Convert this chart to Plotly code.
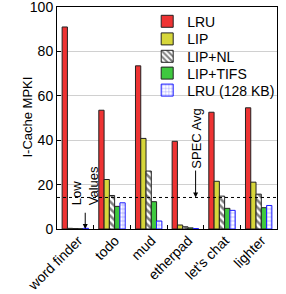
import plotly.graph_objects as go

categories = ["word finder", "todo", "mud", "etherpad", "let's chat", "lighter"]
series_names = ["LRU", "LIP", "LIP+NL", "LIP+TIFS", "LRU (128 KB)"]
lru = [91.0, 53.5, 73.5, 39.5, 52.6, 54.6]
lip = [0.3, 22.3, 40.8, 1.8, 21.5, 21.1]
lip_nl = [0.2, 15.1, 26.1, 1.0, 14.8, 15.7]
lip_tifs = [0.1, 10.2, 12.3, 0.5, 9.3, 9.6]
lru_128 = [0.3, 11.8, 3.6, 0.2, 8.4, 10.6]
spec_avg = 14.2
y_ticks = [0, 20, 40, 60, 80, 100]

FONT = "Liberation Sans, Arial, sans-serif"

fig = go.Figure()
styles = [
    dict(color="#ee3333", line=dict(color="#222222", width=1)),
    dict(color="#d6d63a", line=dict(color="#222222", width=1)),
    dict(color="white", line=dict(color="#222222", width=1),
         pattern=dict(shape="\\", fgcolor="black", bgcolor="white", size=5, solidity=0.5)),
    dict(color="#3fc93f", line=dict(color="#222222", width=1)),
    dict(color="white", line=dict(color="#1a1aff", width=1),
         pattern=dict(shape="+", fgcolor="#1a1aff", bgcolor="white", size=4, solidity=0.25)),
]
legend_ids = ["legend", "legend2", "legend3", "legend4", "legend5"]
legend_y_px = [21.7, 39.3, 56.7, 73.5, 90.5]
for name, vals, st, lg in zip(series_names, [lru, lip, lip_nl, lip_tifs, lru_128], styles, legend_ids):
    fig.add_trace(go.Bar(x=categories, y=vals, name=name, marker=st, legend=lg))

fig.add_shape(type="line", xref="paper", yref="y", x0=0, x1=1, y0=spec_avg, y1=spec_avg,
              line=dict(color="black", width=1, dash="dot"))

fig.add_annotation(x=0.27, y=0, xref="x", yref="y", ax=0.27, ay=8, axref="x", ayref="y",
                   showarrow=True, arrowhead=2, arrowsize=1, arrowwidth=1, arrowcolor="black", text="")
fig.add_annotation(x=0.25, y=19.5, xref="x", yref="y", text="Low<br>Values", showarrow=False,
                   textangle=-90, align="left", font=dict(family=FONT, size=13, color="black"))
fig.add_annotation(x=3.28, y=spec_avg, xref="x", yref="y", ax=3.28, ay=27, axref="x", ayref="y",
                   showarrow=True, arrowhead=2, arrowsize=1, arrowwidth=1, arrowcolor="black", text="")
fig.add_annotation(x=3.28, y=40.5, xref="x", yref="y", text="SPEC Avg", showarrow=False,
                   textangle=-90, font=dict(family=FONT, size=13, color="black"))
fig.add_annotation(x=-0.1345, y=0.504, xref="paper", yref="paper", xanchor="center", yanchor="middle",
                   text="I-Cache MPKI",
                   showarrow=False, textangle=-90, font=dict(family=FONT, size=13, color="black"))

layout_legends = {}
for lg, ypx in zip(legend_ids, legend_y_px):
    layout_legends[lg] = dict(x=0.41, y=(229 - ypx) / 222, xanchor="left", yanchor="middle",
                              bgcolor="rgba(255,255,255,0)", font=dict(size=14), itemwidth=30)

fig.update_layout(
    width=286, height=294,
    margin=dict(l=57, r=6, t=7, b=65),
    paper_bgcolor="white", plot_bgcolor="white",
    barmode="group", bargap=0.28, bargroupgap=0,
    font=dict(family=FONT, size=14, color="black"),
    showlegend=True,
    **layout_legends,
)
fig.update_xaxes(type="category", showline=True, linecolor="black", mirror=True, automargin=False,
                 ticks="inside", tickson="boundaries", ticklen=4, tickcolor="black",
                 tickangle=-45, tickfont=dict(size=14), showgrid=False,
                 ticklabelshift=3, ticklabelstandoff=-3, ticklabeloverflow="allow")
fig.update_yaxes(range=[0, 100], tickvals=y_ticks, showline=True, linecolor="black", mirror=True,
                 automargin=False, ticklabeloverflow="allow",
                 ticks="inside", ticklen=4, tickcolor="black", showgrid=True, gridcolor="#d0d0d0",
                 tickfont=dict(size=14), zeroline=False)

fig.write_html("out.html", config={"displayModeBar": False},
               post_script="document.body.style.margin='0px';")
